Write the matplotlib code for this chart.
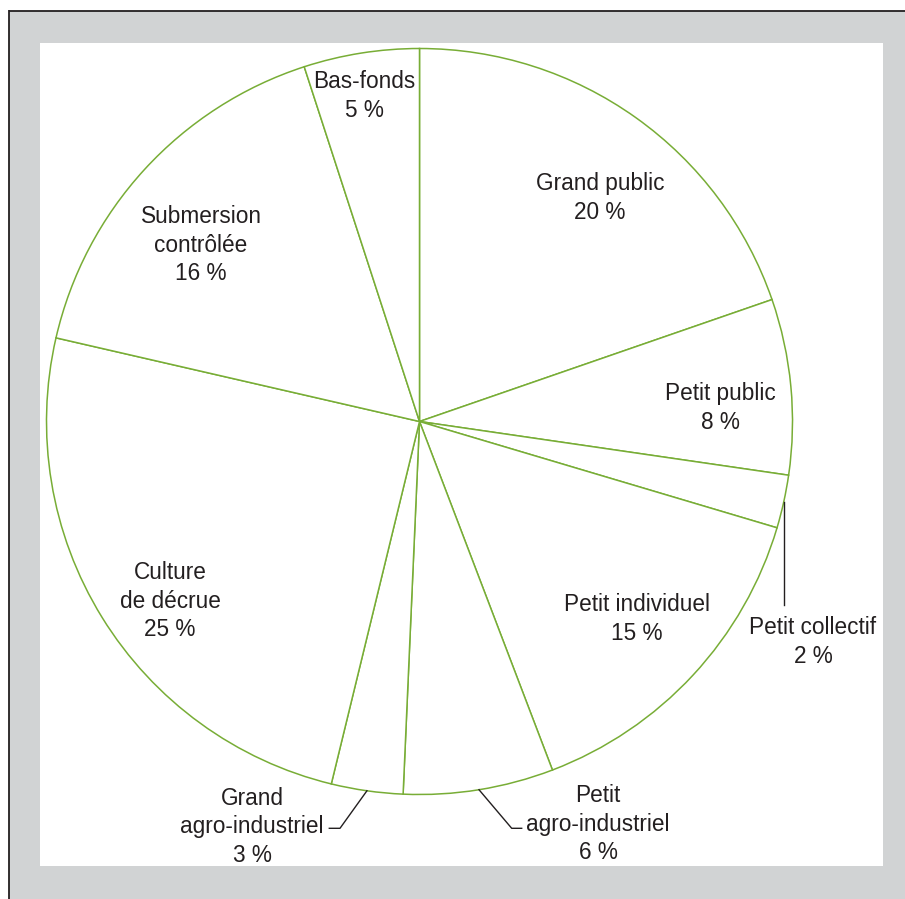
import numpy as np
import matplotlib
matplotlib.use("Agg")
from matplotlib import pyplot as plt
from matplotlib.patches import Rectangle

# parts of the pie, clockwise from the top (percent, read from the slice edges)
categories = ['Grand public', 'Petit public', 'Petit collectif', 'Petit individuel',
              'Petit agro-industriel', 'Grand agro-industriel', 'Culture de décrue',
              'Submersion contrôlée', 'Bas-fonds']
shares = [19.7, 7.6, 2.3, 14.6, 6.5, 3.1, 24.8, 16.4, 5.0]
label_texts = ['Grand public\n20 %', 'Petit public\n8 %', 'Petit collectif\n2 %',
               'Petit individuel\n15 %', 'Petit\nagro-industriel\n6 %',
               'Grand\nagro-industriel\n3 %', 'Culture\nde décrue\n25 %',
               'Submersion\ncontrôlée\n16 %', 'Bas-fonds\n5 %']

W, H = 905, 899
GREEN = '#78ad36'
INK = '#231f20'
GREY = '#d1d3d4'

# label centres in pixels (x, y from top)
label_pos = [(600, 198), (720, 408), (813, 642), (637, 619), (598, 824),
             (252, 827), (170, 601), (201, 245), (364, 96)]
# leader lines: wedge index -> remaining points (pixels)
leaders = {2: [(None, 605)],
           4: [(511.7, 828.3), (521.7, 828.3)],
           5: [(340, 828.3), (329.3, 828.3)]}

cx, cy, r = 419.5, 421.5, 373


def fy(y):
    return H - y


plt.rcParams['font.family'] = ['Liberation Sans', 'DejaVu Sans']

fig = plt.figure(figsize=(W / 100, H / 100), dpi=100, facecolor='white')
ax = fig.add_axes([0, 0, 1, 1])

# frame
ax.add_patch(Rectangle((9, 0), W - 9, fy(11), facecolor=GREY, edgecolor='none', zorder=0))
ax.plot([9, W], [fy(10.6), fy(10.6)], color=INK, lw=1.3, zorder=1, solid_capstyle='butt')
ax.plot([8.6, 8.6], [0, fy(10)], color=INK, lw=1.3, zorder=1, solid_capstyle='butt')
ax.add_patch(Rectangle((40, fy(866)), 883 - 40, 866 - 43, facecolor='white',
                       edgecolor='none', zorder=1))

wedges, _ = ax.pie(shares, startangle=90, counterclock=False, center=(cx, fy(cy)),
                   radius=r, frame=False,
                   wedgeprops=dict(facecolor='white', edgecolor=GREEN, linewidth=1.1, zorder=2))

for w in wedges:
    w.set_zorder(2)

for txt, (lx, ly) in zip(label_texts, label_pos):
    ax.text(lx, fy(ly), txt, ha='center', va='center', fontsize=16.3, color=INK,
            linespacing=1.32, zorder=4)

for idx, pts in leaders.items():
    w = wedges[idx]
    mid = np.deg2rad((w.theta1 + w.theta2) / 2)
    x0 = cx + r * np.cos(mid)
    y0 = fy(cy) + r * np.sin(mid)
    xs, ys = [x0], [y0]
    for px, py in pts:
        xs.append(x0 if px is None else px)
        ys.append(fy(py))
    ax.plot(xs, ys, color=INK, lw=1.0, zorder=3)

ax.set_xlim(0, W)
ax.set_ylim(0, H)
ax.set_aspect('equal')
ax.axis('off')

fig.savefig('out.png', dpi=100, facecolor='white')
